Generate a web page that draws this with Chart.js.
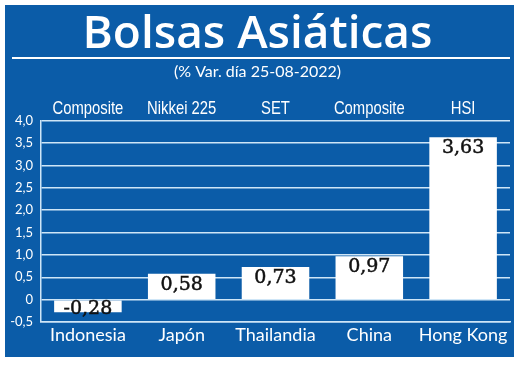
<!DOCTYPE html>
<html>
<head>
<meta charset="utf-8">
<script src="https://cdn.jsdelivr.net/npm/chart.js@4/dist/chart.umd.min.js"></script>
<style>
  html, body { margin:0; padding:0; background:#fff; }
  #wrap { width:520px; height:367px; }
</style>
</head>
<body>
<div id="wrap"><canvas id="c" width="520" height="367"></canvas></div>
<script>
// Data
const countries = ['Indonesia', 'Japón', 'Thailandia', 'China', 'Hong Kong'];
const indexNames = ['Composite', 'Nikkei 225', 'SET', 'Composite', 'HSI'];
const changes = [-0.28, 0.58, 0.73, 0.97, 3.63];
const yTicks = [-0.5, 0, 0.5, 1.0, 1.5, 2.0, 2.5, 3.0, 3.5, 4.0];

const BLUE = '#0b5ca8';
const GRID = '#cfe6f7';

const fmt = v => v === 0 ? '0' : v.toFixed(1).replace('.', ',');
const fmt2 = v => v.toFixed(2).replace('.', ',');

// blue panel + white rule under the title
const panel = {
  id: 'panel',
  beforeDraw(chart){
    const ctx = chart.ctx;
    ctx.save();
    ctx.fillStyle = BLUE;
    ctx.fillRect(5, 5, 509, 352);
    ctx.strokeStyle = '#ffffff';
    ctx.lineWidth = 2;
    ctx.beginPath();
    ctx.moveTo(12, 58);
    ctx.lineTo(510, 58);
    ctx.stroke();
    ctx.restore();
  }
};

// index names above the plot, condensed like the original
const indexRow = {
  id: 'indexRow',
  afterDraw(chart){
    const ctx = chart.ctx;
    const sc = chart.scales.x2;
    ctx.save();
    ctx.font = '19px "Liberation Sans", sans-serif';
    ctx.fillStyle = '#ffffff';
    ctx.textAlign = 'center';
    ctx.textBaseline = 'alphabetic';
    indexNames.forEach((name, i) => {
      const x = sc.getPixelForTick(i);
      ctx.save();
      ctx.translate(x, 114);
      ctx.scale(0.78, 1);
      ctx.fillText(name, 0, 0);
      ctx.restore();
    });
    ctx.restore();
  }
};

// value labels inside the bars
const valueLabels = {
  id: 'valueLabels',
  afterDatasetsDraw(chart){
    const ctx = chart.ctx;
    const meta = chart.getDatasetMeta(0);
    ctx.save();
    ctx.font = '19px "DejaVu Serif", serif';
    ctx.fillStyle = '#111';
    ctx.strokeStyle = '#111';
    ctx.lineWidth = 0.5;
    ctx.textAlign = 'center';
    ctx.textBaseline = 'alphabetic';
    meta.data.forEach((bar, i) => {
      const v = changes[i];
      const y = v >= 0 ? bar.y + 16 : bar.base + 14;
      ctx.fillText(fmt2(v), bar.x, y);
      ctx.strokeText(fmt2(v), bar.x, y);
    });
    ctx.restore();
  }
};

new Chart(document.getElementById('c'), {
  type: 'bar',
  data: {
    labels: countries,
    datasets: [{
      data: changes,
      backgroundColor: '#ffffff',
      borderWidth: 0,
      barPercentage: 0.72,
      categoryPercentage: 1
    }]
  },
  options: {
    responsive: false,
    animation: false,
    events: [],
    layout: { padding: { left: 5, right: 10, top: 0, bottom: 0 } },
    plugins: {
      legend: { display: false },
      tooltip: { enabled: false },
      title: {
        display: true,
        text: 'Bolsas Asiáticas',
        color: '#ffffff',
        font: { family: '"Open Sans"', size: 46, weight: '600', lineHeight: 1 },
        padding: { top: 12, bottom: 4 }
      },
      subtitle: {
        display: true,
        text: '(% Var. día 25-08-2022)',
        color: '#ffffff',
        font: { family: 'Lato', size: 16, lineHeight: 1 },
        padding: { top: 2, bottom: 4 }
      }
    },
    scales: {
      x: {
        position: 'bottom',
        grid: { display: false, drawTicks: false },
        border: { color: GRID, width: 1.5 },
        ticks: { color: '#ffffff', font: { family: 'Lato', size: 18 }, padding: 2, maxRotation: 0, autoSkip: false },
        afterFit(s){ s.height = 45; }
      },
      x2: {
        type: 'category',
        labels: indexNames,
        position: 'top',
        offset: true,
        grid: { display: false, drawTicks: false },
        border: { display: false },
        ticks: { display: false },
        afterFit(s){ s.height = 36.7; }
      },
      y: {
        min: -0.5,
        max: 4,
        afterBuildTicks(s){ s.ticks = yTicks.map(v => ({ value: v })); },
        grid: { color: GRID, lineWidth: 1.5, drawTicks: false },
        border: { color: GRID, width: 1.5 },
        ticks: { color: '#ffffff', font: { family: 'Lato', size: 13 }, padding: 8, callback: v => fmt(v) },
        afterFit(s){ s.width = 36; }
      }
    }
  },
  plugins: [panel, indexRow, valueLabels]
});
</script>
</body>
</html>
